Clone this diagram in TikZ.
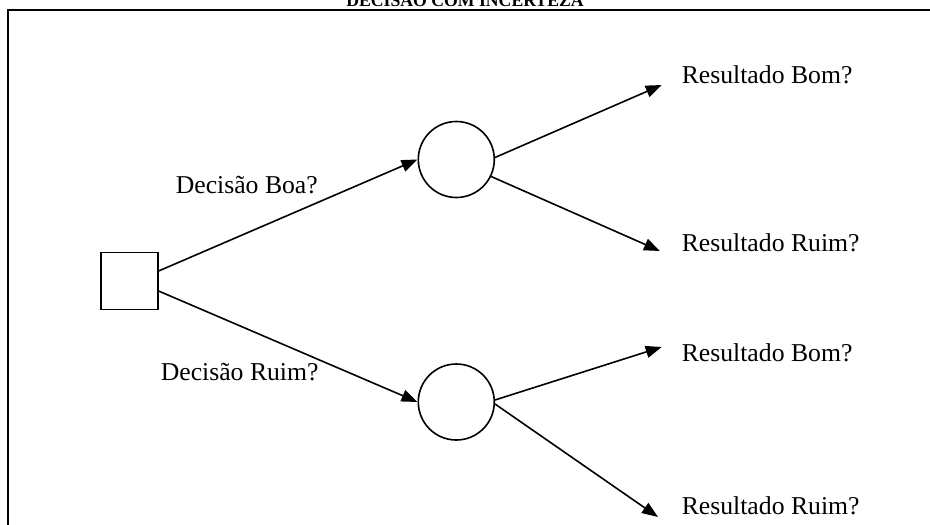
\documentclass[tikz,border=0pt]{standalone}
\usepackage{fontspec}
\setmainfont{Liberation Serif}
\usetikzlibrary{arrows.meta}
\begin{document}
\begin{tikzpicture}[x=1pt,y=-1pt,
  line width=1.6pt,
  lbl/.style={inner sep=0pt,anchor=base west,font=\fontsize{25.7}{30}\selectfont},
  chance/.style={draw,circle,minimum size=76pt,inner sep=0pt},
  choice/.style={draw,rectangle,minimum size=57pt,inner sep=0pt},
  branch/.style={-{Triangle[length=16pt,width=12pt]}}]
\useasboundingbox (0,0) rectangle (930,525);
% frame and its heading
\draw[line width=1.8pt] (8,540) -- (8,10) -- (945,10);
\node[inner sep=0pt,anchor=base,font=\bfseries\fontsize{17.7}{20}\selectfont] (title) at (465,6) {DECISÃO COM INCERTEZA};
% decision node and chance nodes
\node[choice] (dec) at (129.5,281) {};
\node[chance] (c1) at (456.3,159.5) {};
\node[chance] (c2) at (456.3,402) {};
% outcome labels and arrow targets
\coordinate (t1) at (661.7,85);
\coordinate (t2) at (660,251);
\coordinate (t3) at (661.7,347);
\coordinate (t4) at (658,517);
\node[lbl] (r1) at (681,83) {Resultado Bom?};
\node[lbl] (r2) at (681,251) {Resultado Ruim?};
\node[lbl] (r3) at (681,361) {Resultado Bom?};
\node[lbl] (r4) at (681,514) {Resultado Ruim?};
\node[lbl] (d1) at (175,193) {Decisão Boa?};
\node[lbl] (d2) at (160,380) {Decisão Ruim?};
% branches
\draw[branch] (dec.19) -- (c1.west);
\draw[branch] (dec.-19) -- (c2.west);
\draw[branch] (c1.3) -- (t1);
\draw[branch] (c1.-26) -- (t2);
\draw[branch] (c2.3) -- (t3);
\draw[branch] (c2.-3) -- (t4);
\end{tikzpicture}
\end{document}
